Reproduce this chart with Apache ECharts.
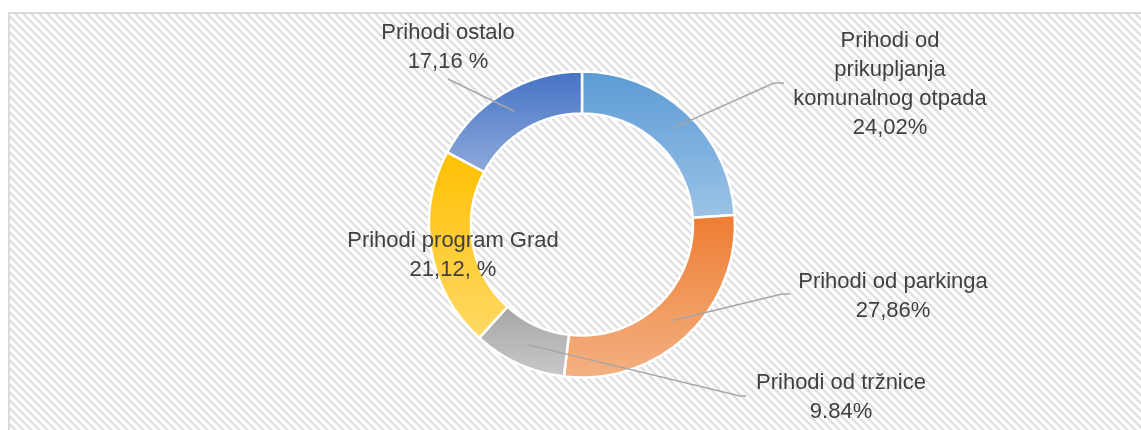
<!DOCTYPE html>
<html>
<head>
<meta charset="utf-8">
<script src="https://cdn.jsdelivr.net/npm/echarts@6/dist/echarts.min.js"></script>
<style>
  html, body { margin: 0; padding: 0; background: #fff; }
  #chart { width: 1141px; height: 430px; }
</style>
</head>
<body>
<div id="chart"></div>
<script>
// data
const categories = [
  'Prihodi od\nprikupljanja\nkomunalnog otpada',
  'Prihodi od parkinga',
  'Prihodi od tržnice',
  'Prihodi program Grad',
  'Prihodi ostalo'
];
const values = [24.02, 27.86, 9.84, 21.12, 17.16];
const valueLabels = ['24,02%', '27,86%', '9.84%', '21,12, %', '17,16 %'];

// styles
const topColors = ['#5B9BD5', '#ED7D31', '#A5A5A5', '#FFC000', '#4472C4'];
const bottomColors = ['#9DC3E6', '#F4B183', '#C9C9C9', '#FFD966', '#8FAADC'];

const CENTER = [582, 224.5];
const RADIUS = [111, 153];

// label placement: block top-centre, and where the leader line ends (null = no line)
const labelPos = [
  { x: 890, y: 26, elbow: [774, 83], end: [784, 83] },
  { x: 893, y: 267, elbow: [782, 294], end: [790, 294] },
  { x: 841, y: 368, elbow: [740, 396], end: [746, 396] },
  { x: 453, y: 226, elbow: null, end: null },
  { x: 448, y: 18, elbow: [448, 79], end: [448, 79] }
];

function hatchPattern() {
  const c = document.createElement('canvas');
  c.width = 8;
  c.height = 8;
  const ctx = c.getContext('2d');
  ctx.fillStyle = '#fff';
  ctx.fillRect(0, 0, 8, 8);
  for (let y = 0; y < 8; y++) {
    for (let x = 0; x < 8; x++) {
      const d = (x - y + 16) % 8;
      if (d === 0 || d === 3) ctx.fillStyle = '#EBEBEB';
      else if (d === 1 || d === 2) ctx.fillStyle = '#DEDEDE';
      else continue;
      ctx.fillRect(x, y, 1, 1);
    }
  }
  return c;
}

const chart = echarts.init(document.getElementById('chart'));

// ring (no labels)
const ringData = categories.map((name, i) => ({
  name: name,
  value: values[i],
  itemStyle: {
    color: new echarts.graphic.LinearGradient(0, 0, 0, 1, [
      { offset: 0, color: topColors[i] },
      { offset: 1, color: bottomColors[i] }
    ])
  }
}));

// same slices again, invisible, only to carry labels + leader lines above the ring
const labelData = categories.map((name, i) => ({
  name: name,
  value: values[i],
  labelLine: { show: labelPos[i].end !== null }
}));

const option = {
  animation: false,
  graphic: [
    {
      type: 'rect',
      z: -10,
      silent: true,
      shape: { x: 9, y: 13, width: 1160, height: 440 },
      style: {
        fill: { image: hatchPattern(), repeat: 'repeat' },
        stroke: '#D9D9D9',
        lineWidth: 2
      }
    }
  ],
  series: [
    {
      type: 'pie',
      center: CENTER,
      radius: RADIUS,
      startAngle: 90,
      silent: true,
      z: 2,
      itemStyle: { borderColor: '#fff', borderWidth: 2.5 },
      label: { show: false },
      labelLine: { show: false },
      data: ringData
    },
    {
      type: 'pie',
      center: CENTER,
      radius: RADIUS,
      startAngle: 90,
      silent: true,
      z: 5,
      avoidLabelOverlap: false,
      itemStyle: { color: 'rgba(0,0,0,0)', borderWidth: 0 },
      label: {
        show: true,
        position: 'outside',
        formatter: (p) => p.name + '\n' + valueLabels[p.dataIndex],
        fontFamily: 'Liberation Sans, Arial, sans-serif',
        fontSize: 22,
        lineHeight: 29,
        color: '#404040',
        align: 'center'
      },
      labelLine: {
        show: true,
        length: 10,
        length2: 10,
        lineStyle: { color: '#A6A6A6', width: 1.5 }
      },
      labelLayout: (params) => {
        const pos = labelPos[params.dataIndex];
        const out = { x: pos.x, y: pos.y, align: 'center', verticalAlign: 'top' };
        if (pos.end && params.labelLinePoints) {
          const p0 = params.labelLinePoints[0];
          const ang = Math.atan2(p0[1] - CENTER[1], p0[0] - CENTER[0]);
          const rMid = (RADIUS[0] + RADIUS[1]) / 2;
          const anchor = [CENTER[0] + rMid * Math.cos(ang), CENTER[1] + rMid * Math.sin(ang)];
          out.labelLinePoints = [anchor, pos.elbow, pos.end];
        }
        return out;
      },
      data: labelData
    }
  ]
};

chart.setOption(option);
</script>
</body>
</html>
